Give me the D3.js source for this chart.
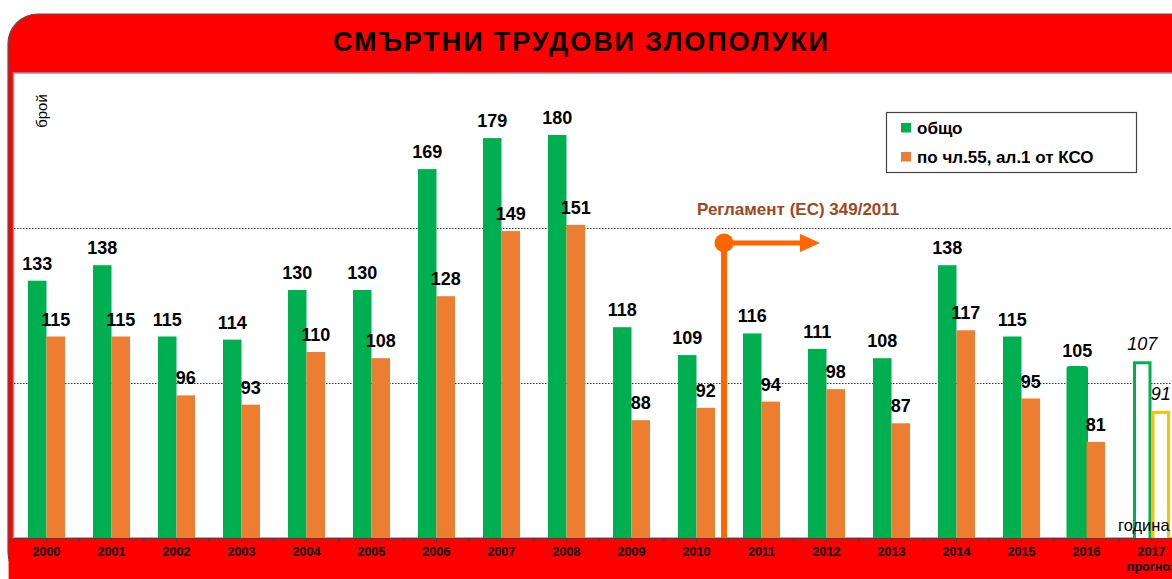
<!DOCTYPE html>
<html><head><meta charset="utf-8">
<script src="https://cdn.jsdelivr.net/npm/d3@7"></script>
<style>html,body{margin:0;padding:0;background:#fff;overflow:hidden}svg{display:block;font-family:"Liberation Sans",Arial,sans-serif}</style>
</head><body><svg id="c" width="1172" height="579"></svg>
<script>
const years = ["2000","2001","2002","2003","2004","2005","2006","2007","2008","2009","2010","2011","2012","2013","2014","2015","2016","2017"];
const total = [133,138,115,114,130,130,169,179,180,118,109,116,111,108,138,115,105,107];
const art55 = [115,115,96,93,110,108,128,149,151,88,92,94,98,87,117,95,81,91];
const forecastYear = "2017";
const yTicks = [100,150];
const titleText = "СМЪРТНИ ТРУДОВИ ЗЛОПОЛУКИ";
const legendLabels = ["общо","по чл.55, ал.1 от КСО"];
const regText = "Регламент (ЕС) 349/2011";

const svg = d3.select("#c");
const L = 14, T = 73, B = 538;
const x = d3.scaleBand().domain(years).range([L, L + 65*years.length]).paddingInner(0).paddingOuter(0);
const bw = x.bandwidth();
const barW = 18.5;
const y = d3.scaleLinear().domain([50,200]).range([B, T]);

// outer frame
svg.append("rect").attr("x",8).attr("y",14).attr("width",1230).attr("height",568).attr("rx",30).attr("ry",30)
  .attr("fill","#ff0000").attr("stroke","#555").attr("stroke-width",1.2);
// plot area
svg.append("rect").attr("x",L-0.5).attr("y",T).attr("width",1200).attr("height",B-T)
  .attr("fill","#fff").attr("stroke","#999").attr("stroke-width",1.5);

// title
svg.append("text").attr("x",333).attr("y",51)
  .attr("font-size",27).attr("font-weight","bold").attr("fill","#000")
  .attr("textLength",495).attr("lengthAdjust","spacing").text(titleText);

// gridlines
svg.append("g").selectAll("line").data(yTicks).join("line")
  .attr("x1",L).attr("x2",1172).attr("y1",d=>Math.round(y(d))+0.5).attr("y2",d=>Math.round(y(d))+0.5)
  .attr("stroke","#333").attr("stroke-width",1).attr("stroke-dasharray","1.5,1.5");

// y label
svg.append("text").attr("transform","translate(47,111) rotate(-90)").attr("text-anchor","middle")
  .attr("font-size",15).attr("fill","#000").text("брой");

const data = years.map((yr,i)=>({yr, total: total[i], art: art55[i], fc: yr===forecastYear}));

// green bars
const gx = d => x(d.yr) + bw/2 - barW;
const ox = d => x(d.yr) + bw/2;
svg.append("g").selectAll("rect").data(data).join("rect")
  .attr("x", d => d.fc ? gx(d)+1.5 : gx(d))
  .attr("y", d => d.fc ? y(d.total)+1.5 : y(d.total))
  .attr("width", d => d.fc ? barW-3 : barW)
  .attr("height", d => B - y(d.total))
  .attr("fill", d => d.fc ? "#fff" : "#00b050")
  .attr("stroke", d => (d.fc || d.yr==="2016") ? "#00b050" : "none")
  .attr("stroke-width", 3).attr("rx", d => d.yr==="2016" ? 1.5 : 0);
// orange bars
svg.append("g").selectAll("rect").data(data).join("rect")
  .attr("x", d => d.fc ? ox(d)+1.5 : ox(d))
  .attr("y", d => d.fc ? y(d.art)+1.5 : y(d.art))
  .attr("width", d => d.fc ? barW-3 : barW)
  .attr("height", d => B - y(d.art))
  .attr("fill", d => d.fc ? "#fff" : "#ed7d31")
  .attr("stroke", d => d.fc ? "#ffc000" : "none").attr("stroke-width",3);

// labels
svg.append("g").selectAll("text").data(data).join("text")
  .attr("x", d => gx(d) + barW/2).attr("y", d => y(d.total) - 11)
  .attr("text-anchor","middle").attr("font-size",18)
  .attr("font-weight", d => d.fc ? "normal" : "bold").attr("font-style", d => d.fc ? "italic" : "normal")
  .text(d => d.total);
svg.append("g").selectAll("text").data(data).join("text")
  .attr("x", d => ox(d) + barW/2).attr("y", d => y(d.art) - 11)
  .attr("text-anchor","middle").attr("font-size",18)
  .attr("font-weight", d => d.fc ? "normal" : "bold").attr("font-style", d => d.fc ? "italic" : "normal")
  .text(d => d.art);

// x axis
const axisG = svg.append("g");
axisG.append("rect").attr("x",8.6).attr("y",B+1).attr("width",1200).attr("height",40).attr("fill","#ff0000");
axisG.append("line").attr("x1",L).attr("x2",1172).attr("y1",B+0.5).attr("y2",B+0.5).attr("stroke","#444").attr("stroke-width",1.2);
const tickPos = [];
years.forEach(yr => { tickPos.push(x(yr)); tickPos.push(x(yr)+bw/2); });
axisG.selectAll("line.t").data(tickPos).join("line").attr("class","t")
  .attr("x1",d=>d).attr("x2",d=>d).attr("y1",B).attr("y2",B+4).attr("stroke","#444").attr("stroke-width",1.2);
axisG.selectAll("text.yl").data(years).join("text").attr("class","yl")
  .attr("x", d => x(d)+bw/2).attr("y",B+18).attr("text-anchor","middle")
  .attr("font-size",12.5).attr("font-weight","bold").text(d=>d);
axisG.append("text").attr("x", x(forecastYear)+bw/2).attr("y",B+33).attr("text-anchor","middle")
  .attr("font-size",12.5).attr("font-weight","bold").text("прогноз");
svg.append("text").attr("x",1118).attr("y",531).attr("font-size",16.5).text("година");

// regulation marker
const mx = x("2010") + bw*0.923;
const my = y(145.2);
const ax = x("2011") + bw*1.4;
svg.append("line").attr("x1",mx).attr("x2",mx).attr("y1",my).attr("y2",B).attr("stroke","#ff6600").attr("stroke-width",6);
svg.append("line").attr("x1",mx).attr("x2",ax-18).attr("y1",my).attr("y2",my).attr("stroke","#ff6600").attr("stroke-width",5);
svg.append("path").attr("d",`M${ax-20},${my-9}L${ax},${my}L${ax-20},${my+9}Z`).attr("fill","#ff6600");
svg.append("circle").attr("cx",mx).attr("cy",my).attr("r",9.5).attr("fill","#ff6600");
svg.append("text").attr("x",697).attr("y",215).attr("font-size",17).attr("font-weight","bold")
  .attr("fill","#a0461e").text(regText);

// legend
const lg = svg.append("g");
lg.append("rect").attr("x",886.5).attr("y",112.5).attr("width",250).attr("height",60).attr("fill","#fff").attr("stroke","#444").attr("stroke-width",1.2);
const lc = ["#00b050","#ed7d31"];
legendLabels.forEach((t,i)=>{
  lg.append("rect").attr("x",901).attr("y",123+i*29).attr("width",10).attr("height",9.5).attr("fill",lc[i]);
  lg.append("text").attr("x",917).attr("y",134+i*29).attr("font-size",17).attr("font-weight","bold").text(t);
});
</script></body></html>
